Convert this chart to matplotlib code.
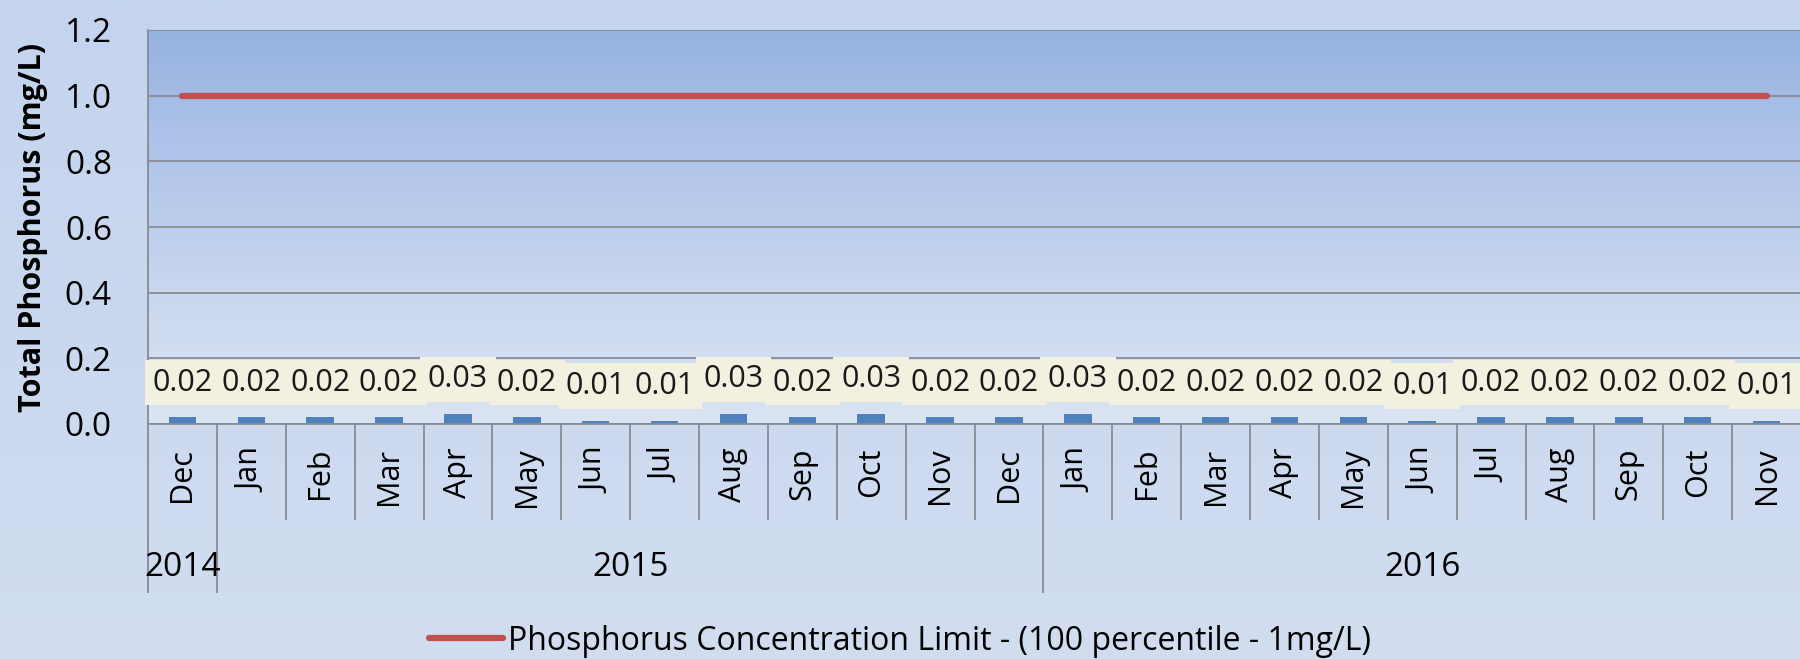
import numpy as np
import matplotlib
matplotlib.use('Agg')
import matplotlib.pyplot as plt
from matplotlib.colors import LinearSegmentedColormap

months = ['Dec', 'Jan', 'Feb', 'Mar', 'Apr', 'May', 'Jun', 'Jul', 'Aug', 'Sep', 'Oct', 'Nov',
          'Dec', 'Jan', 'Feb', 'Mar', 'Apr', 'May', 'Jun', 'Jul', 'Aug', 'Sep', 'Oct', 'Nov']
years = ['2014', '2015', '2016']
year_spans = [(0, 0), (1, 12), (13, 23)]
phosphorus = [0.02, 0.02, 0.02, 0.02, 0.03, 0.02, 0.01, 0.01, 0.03, 0.02, 0.03, 0.02,
              0.02, 0.03, 0.02, 0.02, 0.02, 0.02, 0.01, 0.02, 0.02, 0.02, 0.02, 0.01]
limit = [1.0] * len(months)
limit_label = 'Phosphorus Concentration Limit - (100 percentile - 1mg/L)'

plt.rcParams['font.family'] = ['Open Sans', 'DejaVu Sans']
plt.rcParams['font.size'] = 22

W, H = 1800, 659
fig = plt.figure(figsize=(W / 100, H / 100), dpi=100)

# figure background gradient
bg = fig.add_axes([0, 0, 1, 1], zorder=-10)
bg_cmap = LinearSegmentedColormap.from_list('bg', ['#c4d4ee', '#cad8ef', '#d2ddf0'])
bg.imshow(np.linspace(0, 1, 256).reshape(-1, 1), aspect='auto', cmap=bg_cmap,
          extent=[0, 1, 0, 1])
bg.axis('off')

left, right, top, bottom = 148, 1801, 30, 424
ax = fig.add_axes([left / W, (H - bottom) / H, (right - left) / W, (bottom - top) / H])
ax.patch.set_alpha(0)

x = np.arange(len(months))
ax.set_xlim(-0.5, len(months) - 0.5)
ax.set_ylim(0, 1.2)

# plot area gradient
pa_cmap = LinearSegmentedColormap.from_list('pa', ['#dbe4f3', '#c9d7ef', '#b2c6ea', '#96b2e0'])
ax.imshow(np.linspace(0, 1, 256).reshape(-1, 1), aspect='auto', cmap=pa_cmap,
          origin='lower', extent=[-0.5, len(months) - 0.5, 0, 1.2], zorder=0)

ax.set_yticks(np.arange(0, 1.21, 0.2))
ax.set_yticklabels(['%.1f' % v for v in np.arange(0, 1.21, 0.2)], fontsize=24)
ax.grid(axis='y', color='#878b94', linewidth=1.3, zorder=1)
ax.tick_params(axis='y', length=0, pad=26)
ax.set_ylabel('Total Phosphorus (mg/L)', fontsize=22, fontweight='bold', labelpad=12)

for s in ['top', 'right']:
    ax.spines[s].set_visible(False)
ax.spines['left'].set_color('#878b94')
ax.spines['bottom'].set_color('#878b94')
ax.spines['left'].set_linewidth(1.3)
ax.spines['bottom'].set_linewidth(1.3)

ax.bar(x, phosphorus, width=0.4, color='#4f81bd', zorder=2)
ax.plot(x, limit, color='#c0504d', linewidth=4.5, solid_capstyle='round',
        label=limit_label, zorder=3)

for i, v in enumerate(phosphorus):
    ax.annotate('%.2f' % v, (i, v), xytext=(0, 25), textcoords='offset points',
                ha='center', va='center', fontsize=22, color='#1a1a1a', zorder=4,
                bbox=dict(boxstyle='square,pad=0.25', fc='#f2f0df', ec='none'))

ax.set_xticks(x)
ax.set_xticklabels(months, rotation=90)
ax.tick_params(axis='x', length=0, pad=17)

# category separators below the axis
month_edges = np.arange(-0.5, len(months), 1.0)
year_edges = [-0.5, 0.5, 12.5]
tr = ax.get_xaxis_transform()
ax.vlines([e for e in month_edges if e not in year_edges], 0, -0.244, transform=tr,
          color='#878b94', linewidth=1.3, clip_on=False)
ax.vlines(year_edges, 0, -0.43, transform=tr, color='#878b94', linewidth=1.3, clip_on=False)
for yr, (a, b) in zip(years, year_spans):
    ax.text((a + b) / 2, -0.365, yr, transform=tr, ha='center', va='center', fontsize=24)

fig.legend(loc='center', bbox_to_anchor=(0.5, 18 / H), frameon=False, fontsize=23,
           handlelength=2.3, handletextpad=0.15)

fig.savefig('out.png', dpi=100)
